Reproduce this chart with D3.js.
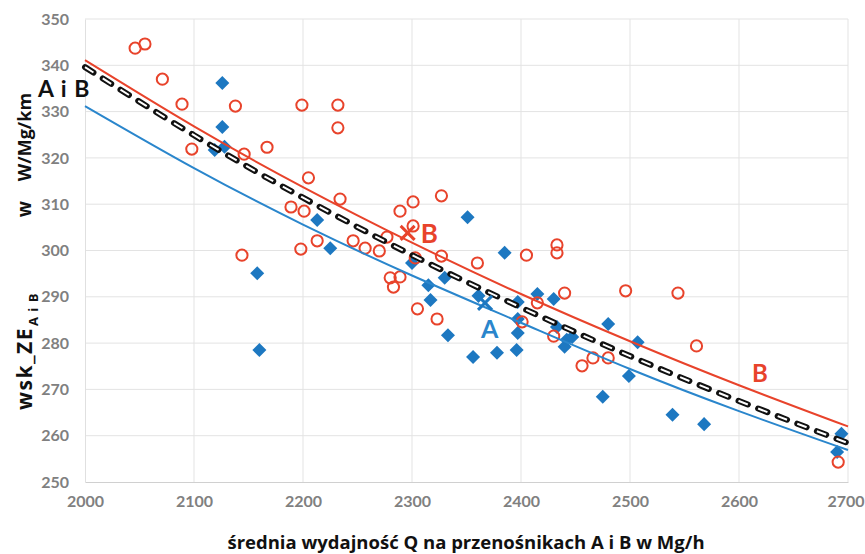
<!DOCTYPE html>
<html><head><meta charset="utf-8">
<script src="https://cdn.jsdelivr.net/npm/d3@7"></script>
<style>body{margin:0;background:#fff}svg{display:block}</style>
</head><body>
<svg id="c" width="865" height="554"></svg>
<script>
// Data
const xTicks = [2000, 2100, 2200, 2300, 2400, 2500, 2600, 2700];
const yTicks = [250, 260, 270, 280, 290, 300, 310, 320, 330, 340, 350];
const seriesA = [[2126,336.2],[2126,326.7],[2119,321.7],[2128,322.4],[2158,295.1],[2160,278.5],[2213,306.6],[2225,300.5],[2300,297.3],[2315,292.5],[2330,294.1],[2317,289.3],[2333,281.7],[2351,307.2],[2361,290.2],[2356,277.0],[2378,277.9],[2385,299.5],[2396,278.5],[2397,288.9],[2397,285.2],[2397,282.2],[2415,290.6],[2430,289.5],[2433,283.5],[2442,280.7],[2447,281.3],[2440,279.2],[2480,284.1],[2475,268.4],[2507,280.2],[2499,272.9],[2539,264.5],[2568,262.5],[2694,260.4],[2690,256.5]];
const seriesB = [[2046,343.7],[2055,344.6],[2071,337.0],[2089,331.6],[2138,331.2],[2098,321.9],[2146,320.8],[2167,322.3],[2189,309.4],[2144,299.0],[2199,331.4],[2232,331.4],[2232,326.5],[2205,315.7],[2234,311.1],[2201,308.5],[2198,300.3],[2213,302.1],[2246,302.1],[2257,300.5],[2270,299.9],[2277,302.9],[2289,308.5],[2301,310.5],[2327,311.8],[2301,305.3],[2327,298.8],[2360,297.3],[2405,299.0],[2433,301.2],[2433,299.5],[2303,298.4],[2280,294.1],[2289,294.3],[2283,292.1],[2305,287.4],[2323,285.2],[2401,284.6],[2415,288.7],[2440,290.8],[2430,281.5],[2456,275.1],[2466,276.8],[2480,276.8],[2496,291.3],[2544,290.8],[2561,279.4],[2691,254.3]];
const trendX = [2000, 2100, 2200, 2300, 2400, 2500, 2600, 2700];
const trendA = [331.2, 317.8, 305.6, 294.6, 284.4, 274.4, 265.3, 256.9];
const trendB = [341.1, 326.8, 313.7, 301.7, 290.6, 280.4, 270.9, 262.0];
const trendAB = [339.6, 324.9, 311.4, 299.0, 287.7, 277.2, 267.5, 258.4];
const meanA = [2367, 288.7];
const meanB = [2296, 303.8];

const svg = d3.select("#c");
const x = d3.scaleLinear().domain([2000, 2700]).range([85, 848]);
const y = d3.scaleLinear().domain([250, 350]).range([482, 19]);
const BLUE = "#1d78c1", RED = "#e8432b";
const FONT = "Lato, 'Open Sans', sans-serif";
const TFONT = "'Open Sans', Lato, sans-serif";

// gridlines
const g = svg.append("g");
g.selectAll(".hg").data(yTicks.slice(1)).join("line")
  .attr("x1", x(2000)).attr("x2", x(2700)).attr("y1", d => y(d)).attr("y2", d => y(d))
  .attr("stroke", "#e3e3e3").attr("stroke-width", 1);
g.selectAll(".vg").data(xTicks.slice(1)).join("line")
  .attr("y1", y(250)).attr("y2", y(350)).attr("x1", d => x(d)).attr("x2", d => x(d))
  .attr("stroke", "#e3e3e3").attr("stroke-width", 1);

// axes
const xAxis = svg.append("g").attr("transform", `translate(0,${y(250)})`)
  .call(d3.axisBottom(x).tickValues(xTicks).tickSize(0).tickPadding(14).tickFormat(d3.format("d")));
xAxis.select(".domain").attr("stroke", "#d0d0d0");
xAxis.selectAll(".tick text").filter(d => d === 2700).attr("text-anchor", "end").attr("dx", 16);
const yAxis = svg.append("g").attr("transform", `translate(${x(2000)},0)`)
  .call(d3.axisLeft(y).tickValues(yTicks).tickSize(0).tickPadding(16).tickFormat(d3.format("d")));
yAxis.select(".domain").attr("stroke", "#e0e0e0");
svg.selectAll(".tick text").attr("font-family", FONT).attr("font-size", 16)
  .attr("font-weight", "bold").attr("fill", "#808080");

// markers
const diamond = d3.symbol().type(d3.symbolDiamond2).size(125);
svg.append("g").selectAll("path").data(seriesA).join("path")
  .attr("d", diamond).attr("transform", d => `translate(${x(d[0])},${y(d[1])})`)
  .attr("fill", BLUE);
svg.append("g").selectAll("circle").data(seriesB).join("circle")
  .attr("cx", d => x(d[0])).attr("cy", d => y(d[1])).attr("r", 5.6)
  .attr("fill", "none").attr("stroke", RED).attr("stroke-width", 2);

// trend lines
const line = d3.line().x(d => x(d[0])).y(d => y(d[1])).curve(d3.curveNatural);
const zip = vals => trendX.map((t, i) => [t, vals[i]]);
svg.append("path").attr("d", line(zip(trendA))).attr("fill", "none").attr("stroke", "#2a86cc").attr("stroke-width", 2);
svg.append("path").attr("d", line(zip(trendB))).attr("fill", "none").attr("stroke", RED).attr("stroke-width", 2);
svg.append("path").attr("d", line(zip(trendAB))).attr("fill", "none").attr("stroke", "#111")
  .attr("stroke-width", 6).attr("stroke-dasharray", "10,11").attr("stroke-linecap", "round");
svg.append("path").attr("d", line(zip(trendAB))).attr("fill", "none").attr("stroke", "#fff")
  .attr("stroke-width", 2).attr("stroke-dasharray", "10,11").attr("stroke-linecap", "butt");

// mean crosses
function cross(p, col) {
  const cx = x(p[0]), cy = y(p[1]), s = 7;
  svg.append("path").attr("d", `M${cx-s},${cy-s}L${cx+s},${cy+s}M${cx-s},${cy+s}L${cx+s},${cy-s}`)
    .attr("stroke", col).attr("stroke-width", 3).attr("fill", "none");
}
cross(meanA, BLUE);
cross(meanB, RED);

// labels
svg.append("text").attr("x", 38).attr("y", 97).text("A i B")
  .attr("font-family", FONT).attr("font-weight", "bold").attr("font-size", 23).attr("letter-spacing", 1).attr("fill", "#111");
svg.append("text").attr("x", x(meanB[0]) + 13).attr("y", y(meanB[1]) + 10).text("B")
  .attr("font-family", FONT).attr("font-weight", "bold").attr("font-size", 26).attr("fill", RED);
svg.append("text").attr("x", x(meanA[0]) - 4).attr("y", y(meanA[1]) + 35).text("A")
  .attr("font-family", FONT).attr("font-weight", "bold").attr("font-size", 25).attr("fill", "#2a86cc");
svg.append("text").attr("x", 752).attr("y", 382).text("B")
  .attr("font-family", FONT).attr("font-weight", "bold").attr("font-size", 24).attr("fill", RED);

// axis titles
svg.append("text").attr("x", 466).attr("y", 549).attr("text-anchor", "middle")
  .attr("font-family", TFONT).attr("font-weight", "bold").attr("font-size", 18.5).attr("fill", "#111")
  .text("średnia wydajność Q na przenośnikach A i B w Mg/h");
const yt = svg.append("text").attr("transform", "translate(32,410) rotate(-90)").attr("text-anchor", "start")
  .attr("font-family", TFONT).attr("font-weight", "bold").attr("font-size", 21).attr("fill", "#111");
yt.append("tspan").attr("letter-spacing", 1.5).text("wsk_ZE");
yt.append("tspan").attr("font-size", 13).attr("dy", 6).attr("dx", 1).attr("letter-spacing", 1).text("A i B");
svg.append("text").attr("transform", "translate(31,209) rotate(-90)").attr("text-anchor", "middle")
  .attr("font-family", TFONT).attr("font-weight", "bold").attr("font-size", 19).attr("fill", "#111").text("w");
svg.append("text").attr("transform", "translate(31,137) rotate(-90)").attr("text-anchor", "middle")
  .attr("font-family", TFONT).attr("font-weight", "bold").attr("font-size", 18).attr("fill", "#111").text("W/Mg/km");
</script>
</body></html>
